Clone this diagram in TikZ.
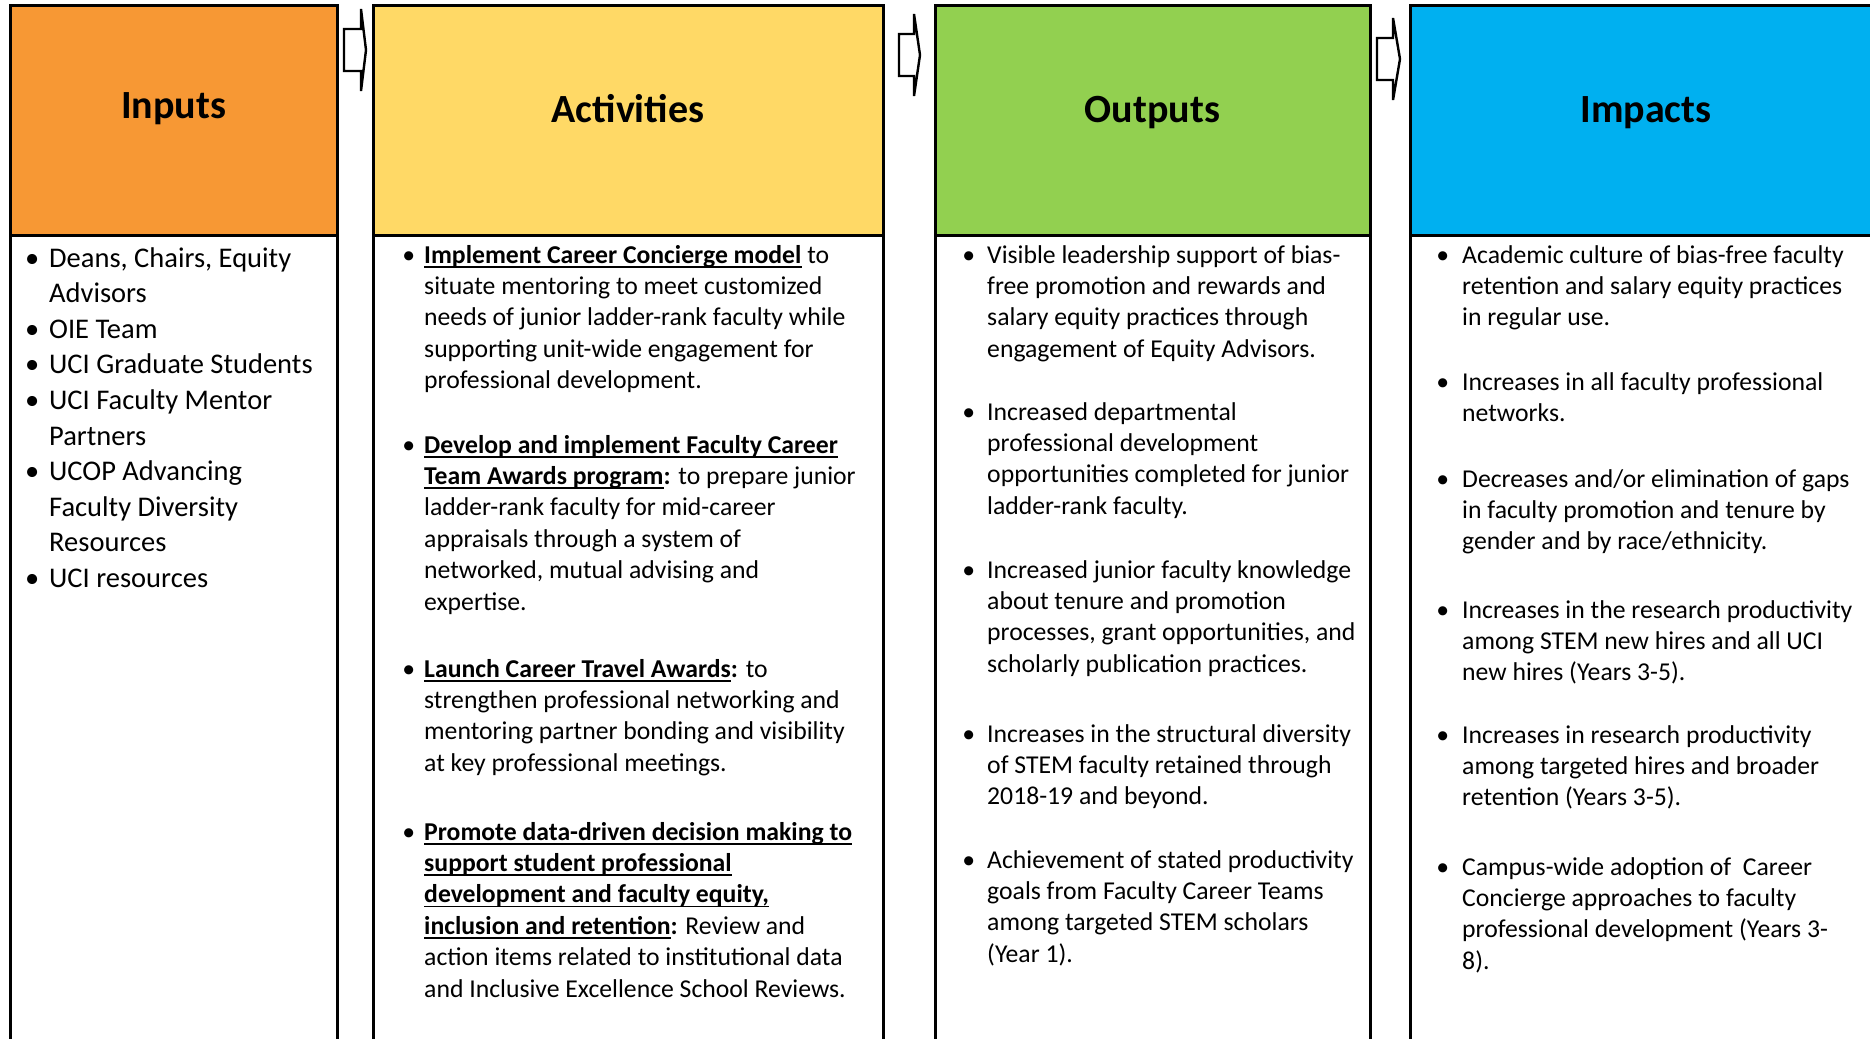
\documentclass[tikz,border=0pt]{standalone}
\usepackage{fontspec}
\setmainfont{Carlito}
\usetikzlibrary{calc,positioning}

\definecolor{inorange}{RGB}{247,152,52}
\definecolor{actyellow}{RGB}{255,217,102}
\definecolor{outgreen}{RGB}{146,208,80}
\definecolor{impblue}{RGB}{0,176,240}

\newsavebox\ulbox
\newcommand\ulin[1]{\sbox\ulbox{\textbf{#1}}\rlap{\rule[-4.5pt]{\wd\ulbox}{1.6pt}}\usebox\ulbox}
\newcommand\bul[1][9]{\strut\llap{\textbullet\hspace{#1pt}}}

\begin{document}
\begin{tikzpicture}[x=1pt,y=-1pt,
    box/.style={draw,line width=3pt,rectangle,inner sep=0pt,outer sep=0pt,anchor=north west},
    title/.style={font=\fontsize{40}{48}\selectfont\bfseries,anchor=base,inner sep=0pt},
    list/.style={anchor=north west,inner sep=0pt,align=left,font=\fontsize{25.7}{31.4}\selectfont},
    biglist/.style={list,font=\fontsize{28.5}{35.6}\selectfont},
    blockarrow/.style={draw,line width=2.4pt,fill=white,line join=miter}]

  \useasboundingbox (0,0) rectangle (1870,1038);
  \clip (0,0) rectangle (1870,1038);
  \fill [white] (0,0) rectangle (1870,1038);

  % column boxes: coloured header, white list below
  \foreach \nm/\col/\xl/\bw/\tb/\ttl in {inputs/inorange/10/327/118/Inputs,
      activities/actyellow/373/510/122/Activities,
      outputs/outgreen/935/435/122/Outputs,
      impacts/impblue/1410/472/122/Impacts}{
    \node [box,fill=\col,minimum width=\bw,minimum height=229] at(\xl,6) (\nm_head) {};
    \node [box,minimum width=\bw,minimum height=840] at(\nm_head.south west) (\nm_body) {};
    \node [title] at($(\nm_head.north)+(0,\tb-6)$) (\nm_title) {\ttl};
  }

  % arrows between the headers
  \foreach \sx/\bx/\tx/\cy in {344/361/366/50, 899/914/920/55, 1377/1393/1400/59}{
    \draw [blockarrow] (\sx,\cy-21) -- (\bx,\cy-21) -- (\bx,\cy-41) -- (\tx,\cy)
      -- (\bx,\cy+41) -- (\bx,\cy+21) -- (\sx,\cy+21) -- cycle;
  }

  % inputs
  \node [biglist] at(49,242) (inputs_list) {\bul[10]Deans, Chairs, Equity\\
    Advisors\\
    \bul[10]OIE Team\\
    \bul[10]UCI Graduate Students\\
    \bul[10]UCI Faculty Mentor\\
    Partners\\
    \bul[10]UCOP Advancing\\
    Faculty Diversity\\
    Resources\\
    \bul[10]UCI resources};

  % activities
  \node [list] at(424,241) (act_1) {\bul\ulin{Implement Career Concierge model} to\\
    situate mentoring to meet customized\\
    needs of junior ladder-rank faculty while\\
    supporting unit-wide engagement for\\
    professional development.};
  \node [list] at(424,431) (act_2) {\bul\ulin{Develop and implement Faculty Career}\\
    \ulin{Team Awards program}\textbf{:} to prepare junior\\
    ladder-rank faculty for mid-career\\
    appraisals through a system of\\
    networked, mutual advising and\\
    expertise.};
  \node [list] at(424,655) (act_3) {\bul\ulin{Launch Career Travel Awards}\textbf{:} to\\
    strengthen professional networking and\\
    mentoring partner bonding and visibility\\
    at key professional meetings.};
  \node [list] at(424,818) (act_4) {\bul\ulin{Promote data-driven decision making to}\\
    \ulin{support student professional}\\
    \ulin{development and faculty equity,}\\
    \ulin{inclusion and retention}\textbf{:} Review and\\
    action items related to institutional data\\
    and Inclusive Excellence School Reviews.};

  % outputs
  \node [list] at(987,241) (out_1) {\bul[12]Visible leadership support of bias-\\
    free promotion and rewards and\\
    salary equity practices through\\
    engagement of Equity Advisors.};
  \node [list] at(987,398) (out_2) {\bul[12]Increased departmental\\
    professional development\\
    opportunities completed for junior\\
    ladder-rank faculty.};
  \node [list] at(987,556) (out_3) {\bul[12]Increased junior faculty knowledge\\
    about tenure and promotion\\
    processes, grant opportunities, and\\
    scholarly publication practices.};
  \node [list] at(987,720) (out_4) {\bul[12]Increases in the structural diversity\\
    of STEM faculty retained through\\
    2018-19 and beyond.};
  \node [list] at(987,846) (out_5) {\bul[12]Achievement of stated productivity\\
    goals from Faculty Career Teams\\
    among targeted STEM scholars\\
    (Year 1).};

  % impacts
  \node [list] at(1462,241) (imp_1) {\bul[13]Academic culture of bias-free faculty\\
    retention and salary equity practices\\
    in regular use.};
  \node [list] at(1462,368) (imp_2) {\bul[13]Increases in all faculty professional\\
    networks.};
  \node [list] at(1462,465) (imp_3) {\bul[13]Decreases and/or elimination of gaps\\
    in faculty promotion and tenure by\\
    gender and by race/ethnicity.};
  \node [list] at(1462,596) (imp_4) {\bul[13]Increases in the research productivity\\
    among STEM new hires and all UCI\\
    new hires (Years 3-5).};
  \node [list] at(1462,721) (imp_5) {\bul[13]Increases in research productivity\\
    among targeted hires and broader\\
    retention (Years 3-5).};
  \node [list] at(1462,853) (imp_6) {\bul[13]Campus-wide adoption of~ Career\\
    Concierge approaches to faculty\\
    professional development (Years 3-\\
    8).};
\end{tikzpicture}
\end{document}
